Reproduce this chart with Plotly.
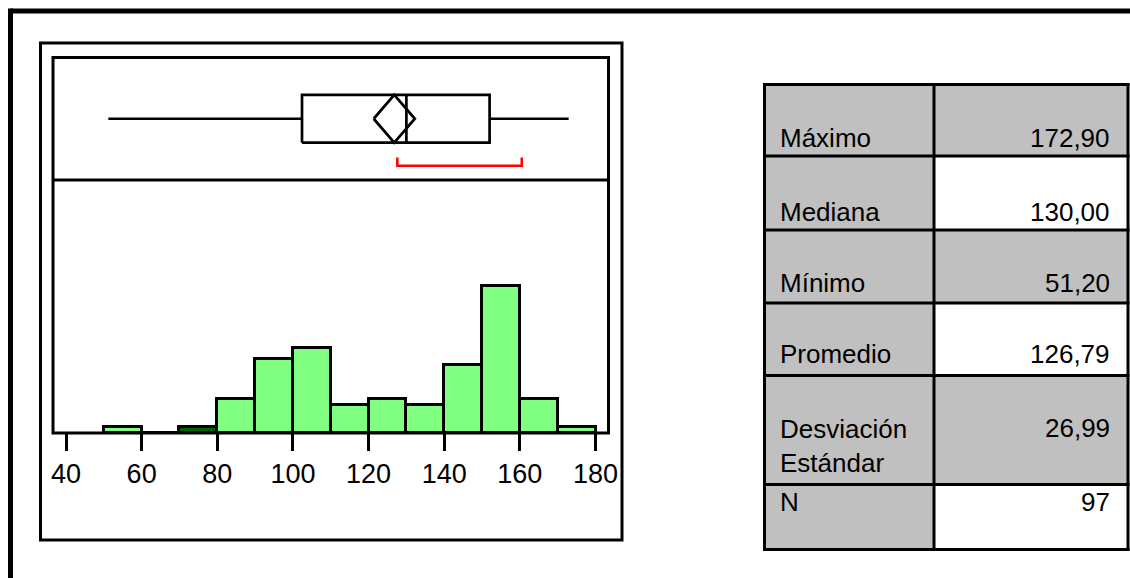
import plotly.graph_objects as go

W, H = 1130, 578

# Histogram bins (left edges) and counts
bin_left = [50, 60, 70, 80, 90, 100, 110, 120, 130, 140, 150, 160, 170]
counts = [1, 0, 1, 6, 13, 15, 5, 6, 5, 12, 26, 6, 1]
bin_width = 10
highlighted_bin = 70  # bar drawn in dark green

# Summary statistics
stat_min = 51.2
stat_q1 = 102.4
stat_median = 130.0
stat_q3 = 152.0
stat_max = 172.9
stat_mean = 126.79
stat_sd = 26.99
stat_n = 97
t_crit = 1.985
shortest_half = [127.6, 160.5]

# Table contents
table_labels = ["Máximo", "Mediana", "Mínimo", "Promedio", "Desviación<br>Estándar", "N"]
table_values = ["172,90", "130,00", "51,20", "126,79", "26,99", "97"]

tick_vals = [40, 60, 80, 100, 120, 140, 160, 180]
tick_text = ["40", "60", "80", "100", "120", "140", "160", "180"]

FONT = "Liberation Sans, Arial, sans-serif"
GREEN = "#80FF80"
DARK_GREEN = "#006400"
GRAY = "#C0C0C0"


def px(x):
    return x / W


def py(y):
    return 1 - y / H


# plot area in pixels
PL, PR, PT, PD, PB = 53, 608.5, 57.5, 180, 433

fig = go.Figure()

# histogram
centers = [b + bin_width / 2 for b in bin_left]
colors = [DARK_GREEN if b == highlighted_bin else GREEN for b in bin_left]
fig.add_trace(go.Bar(
    x=centers, y=counts, width=bin_width,
    marker=dict(color=colors, line=dict(color="black", width=3)),
    xaxis="x", yaxis="y", showlegend=False, hoverinfo="x+y",
))

# box plot (y2 spans 0..1 over the upper panel)
ym, hh = 0.5, 0.195
box_line = dict(color="black", width=2.7)
fig.add_trace(go.Scatter(
    x=[stat_min, stat_q1, None, stat_q3, stat_max],
    y=[ym, ym, None, ym, ym],
    mode="lines", line=box_line, xaxis="x2", yaxis="y2", showlegend=False,
))
fig.add_trace(go.Scatter(
    x=[stat_q1, stat_q3, stat_q3, stat_q1, stat_q1],
    y=[ym - hh, ym - hh, ym + hh, ym + hh, ym - hh],
    mode="lines", line=box_line, xaxis="x2", yaxis="y2", showlegend=False,
))
fig.add_trace(go.Scatter(
    x=[stat_median, stat_median], y=[ym - hh, ym + hh],
    mode="lines", line=box_line, xaxis="x2", yaxis="y2", showlegend=False,
))
ci = t_crit * stat_sd / stat_n ** 0.5
fig.add_trace(go.Scatter(
    x=[stat_mean - ci, stat_mean, stat_mean + ci, stat_mean, stat_mean - ci],
    y=[ym, ym + hh, ym, ym - hh, ym],
    mode="lines", line=box_line, xaxis="x2", yaxis="y2", showlegend=False,
))
# shortest half bracket
fig.add_trace(go.Scatter(
    x=[shortest_half[0], shortest_half[0], shortest_half[1], shortest_half[1]],
    y=[0.184, 0.116, 0.116, 0.184],
    mode="lines", line=dict(color="#FF0000", width=2.5),
    xaxis="x2", yaxis="y2", showlegend=False,
))

# axis range so 40 and 180 land at the tick positions
x_per = (595.5 - 66) / 140
xr = [40 - (66 - PL) / x_per, 180 + (PR - 595.5) / x_per]
y_per = 5.67
yr = [0, (PB - PD) / y_per]

shapes = []
# outer frame: left and top edges (the rest runs past the canvas)
shapes.append(dict(type="line", xref="paper", yref="paper",
                   x0=px(10.5), x1=1, y0=py(11), y1=py(11),
                   line=dict(color="black", width=5)))
shapes.append(dict(type="line", xref="paper", yref="paper",
                   x0=px(10.5), x1=px(10.5), y0=py(8.5), y1=0,
                   line=dict(color="black", width=5)))
# panel
shapes.append(dict(type="rect", xref="paper", yref="paper",
                   x0=px(40.5), x1=px(622), y0=py(43), y1=py(540),
                   line=dict(color="black", width=3)))
# plot area border and divider
shapes.append(dict(type="rect", xref="paper", yref="paper",
                   x0=px(PL), x1=px(PR), y0=py(PT), y1=py(PB),
                   line=dict(color="black", width=3), layer="above"))
shapes.append(dict(type="line", xref="paper", yref="paper",
                   x0=px(PL), x1=px(PR), y0=py(PD), y1=py(PD),
                   line=dict(color="black", width=3)))

# table
col_x = [764.5, 934, 1128]
row_y = [84.5, 156, 230, 303, 375.5, 484.5, 549.5]
value_fill = [GRAY, "white", GRAY, "white", GRAY, "white"]
for i in range(6):
    shapes.append(dict(type="rect", xref="paper", yref="paper",
                       x0=px(col_x[0]), x1=px(col_x[1]),
                       y0=py(row_y[i]), y1=py(row_y[i + 1]),
                       fillcolor=GRAY, line=dict(width=0), layer="below"))
    shapes.append(dict(type="rect", xref="paper", yref="paper",
                       x0=px(col_x[1]), x1=px(col_x[2]),
                       y0=py(row_y[i]), y1=py(row_y[i + 1]),
                       fillcolor=value_fill[i], line=dict(width=0), layer="below"))
for yv in row_y:
    shapes.append(dict(type="line", xref="paper", yref="paper",
                       x0=px(col_x[0] - 1.5), x1=px(col_x[2] + 1.5), y0=py(yv), y1=py(yv),
                       line=dict(color="black", width=3)))
for xv in col_x:
    shapes.append(dict(type="line", xref="paper", yref="paper",
                       x0=px(xv), x1=px(xv), y0=py(row_y[0] - 1.5), y1=py(row_y[-1] + 1.5),
                       line=dict(color="black", width=3)))

# text vertical centres for each row (pixels)
label_mid = [138, 212, 283, 354, 446, 502]
value_mid = [138, 212, 283, 354, 428, 502]
annotations = []
for lab, val, lm, vm in zip(table_labels, table_values, label_mid, value_mid):
    annotations.append(dict(xref="paper", yref="paper", x=px(778), y=py(lm),
                            text=lab, showarrow=False, xanchor="left", yanchor="middle",
                            align="left", font=dict(family=FONT, size=26, color="black")))
    annotations.append(dict(xref="paper", yref="paper", x=px(1112), y=py(vm),
                            text=val, showarrow=False, xanchor="right", yanchor="middle",
                            align="right", font=dict(family=FONT, size=26, color="black")))

fig.update_layout(
    width=W, height=H,
    margin=dict(l=0, r=0, t=0, b=0, autoexpand=False),
    paper_bgcolor="white", plot_bgcolor="white",
    bargap=0,
    xaxis=dict(domain=[px(PL), px(PR)], range=xr, anchor="y", automargin=False,
               tickvals=tick_vals, ticktext=tick_text,
               ticks="outside", ticklen=17, tickwidth=3, tickcolor="black",
               tickfont=dict(family=FONT, size=27, color="black"),
               showgrid=False, zeroline=False, showline=False, fixedrange=True),
    yaxis=dict(domain=[py(PB), py(PD)], range=yr, visible=False, automargin=False,
               showgrid=False, zeroline=False, fixedrange=True),
    xaxis2=dict(domain=[px(PL), px(PR)], range=xr, anchor="y2", matches="x",
                visible=False, automargin=False, showgrid=False, zeroline=False),
    yaxis2=dict(domain=[py(PD), py(PT)], range=[0, 1], visible=False, automargin=False,
                showgrid=False, zeroline=False, fixedrange=True),
    shapes=shapes,
    annotations=annotations,
    font=dict(family=FONT),
)

fig.write_html("out.html")
